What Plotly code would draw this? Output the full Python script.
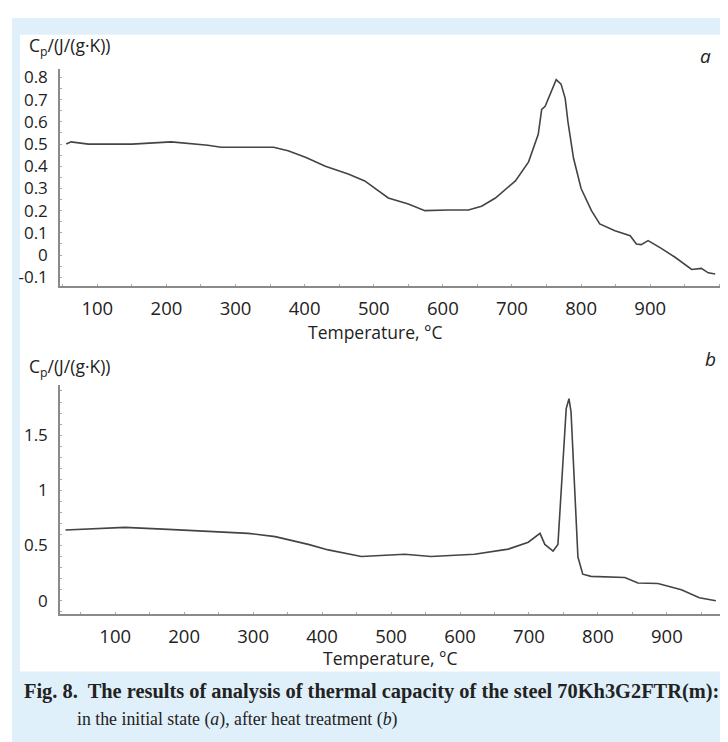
import plotly.graph_objects as go

# (a) initial state
temp_a = [55, 62, 87, 150, 207, 260, 279, 355, 376, 402, 430, 463, 487, 521, 550,
          574, 608, 637, 656, 676, 705, 724, 738, 743, 748, 757, 764, 771, 777, 781,
          789, 800, 815, 827, 849, 871, 880, 887, 897, 916, 936, 960, 974, 984, 994]
cp_a = [0.50, 0.51, 0.50, 0.50, 0.51, 0.495, 0.486, 0.486, 0.47, 0.44, 0.40, 0.365,
        0.334, 0.257, 0.23, 0.20, 0.203, 0.203, 0.22, 0.257, 0.334, 0.42, 0.544,
        0.656, 0.67, 0.737, 0.79, 0.77, 0.706, 0.60, 0.437, 0.30, 0.20, 0.14, 0.11,
        0.087, 0.05, 0.047, 0.065, 0.03, -0.01, -0.065, -0.06, -0.08, -0.085]

# (b) after heat treatment
temp_b = [28, 114, 177, 293, 332, 380, 409, 457, 520, 558, 621, 670, 699, 716, 723,
          735, 742, 749, 754, 758, 761, 766, 771, 778, 790, 839, 858, 887, 921, 947, 971]
cp_b = [0.64, 0.664, 0.646, 0.61, 0.58, 0.51, 0.46, 0.40, 0.42, 0.40, 0.42, 0.467,
        0.53, 0.61, 0.51, 0.45, 0.51, 1.23, 1.74, 1.83, 1.71, 1.05, 0.395, 0.24,
        0.22, 0.21, 0.16, 0.155, 0.098, 0.027, 0.0]

x_ticks = [100, 200, 300, 400, 500, 600, 700, 800, 900]
y_ticks_a = [-0.1, 0, 0.1, 0.2, 0.3, 0.4, 0.5, 0.6, 0.7, 0.8]
y_text_a = ["-0.1", "0", "0.1", "0.2", "0.3", "0.4", "0.5", "0.6", "0.7", "0.8"]
y_ticks_b = [0, 0.5, 1, 1.5]
y_text_b = ["0", "0.5", "1", "1.5"]

W, H = 728, 742
def px(x):
    return x / W
def py(y):
    return 1 - y / H

sans = "Open Sans"
fig = go.Figure()
fig.add_trace(go.Scatter(x=temp_a, y=cp_a, mode="lines", xaxis="x", yaxis="y",
                         line=dict(color="#444444", width=1.6), showlegend=False))
fig.add_trace(go.Scatter(x=temp_b, y=cp_b, mode="lines", xaxis="x2", yaxis="y2",
                         line=dict(color="#444444", width=1.6), showlegend=False))

axis_common = dict(showgrid=False, zeroline=False, showline=True, linecolor="#8a8a8a",
                   linewidth=1.5, ticks="", tickfont=dict(family=sans, size=18.5, color="#222"),
                   minor=dict(ticks="inside", ticklen=2, tickcolor="#aaaaaa", showgrid=False))
ytick_font = dict(family=sans, size=17, color="#222")

fig.update_layout(
    width=W, height=H, margin=dict(l=0, r=0, t=0, b=0),
    paper_bgcolor="white", plot_bgcolor="white",
    xaxis=dict(axis_common, domain=[px(52), px(712)], range=[46, 1001], tickvals=x_ticks,
               anchor="y", ticklabelstandoff=5),
    yaxis=dict(axis_common, domain=[py(277), py(58)], range=[-0.14, 0.84],
               tickvals=y_ticks_a, ticktext=y_text_a, anchor="x", ticklabelstandoff=7,
               tickfont=ytick_font),
    xaxis2=dict(axis_common, domain=[px(52), px(712)], range=[20, 977], tickvals=x_ticks,
                anchor="y2", ticklabelstandoff=5),
    yaxis2=dict(axis_common, domain=[py(607), py(377)], range=[-0.12, 1.95],
                tickvals=y_ticks_b, ticktext=y_text_b, anchor="x2", ticklabelstandoff=7,
                tickfont=ytick_font),
    shapes=[
        dict(type="rect", xref="paper", yref="paper", x0=px(4), x1=1, y0=py(741), y1=py(7),
             fillcolor="#e0f0fa", line_width=0, layer="below"),
        dict(type="rect", xref="paper", yref="paper", x0=px(12), x1=px(723), y0=py(665), y1=py(24),
             fillcolor="white", line_width=0, layer="below"),
    ],
)

def note(text, x, y, size=17.5, family=sans, xanchor="left"):
    fig.add_annotation(text=text, x=px(x), y=py(y), xref="paper", yref="paper",
                       xanchor=xanchor, yanchor="middle", showarrow=False,
                       font=dict(family=family, size=size, color="#222"))

note("C<sub>p</sub>/(J/(g·K))", 19, 36)
note("C<sub>p</sub>/(J/(g·K))", 19, 359)
note("<i>a</i>", 697, 45, size=19, xanchor="center")
note("<i>b</i>", 702, 350, size=19, xanchor="center")
note("Temperature, °C", 367, 323, xanchor="center")
note("Temperature, °C", 382, 651, xanchor="center")
note("<b>Fig. 8.  The results of analysis of thermal capacity of the steel 70Kh3G2FTR(m):</b>",
     14, 685, size=20.4, family="Liberation Serif")
note("in the initial state (<i>a</i>), after heat treatment (<i>b</i>)",
     67, 713, size=17.8, family="Liberation Serif")

fig.write_html("out.html")
